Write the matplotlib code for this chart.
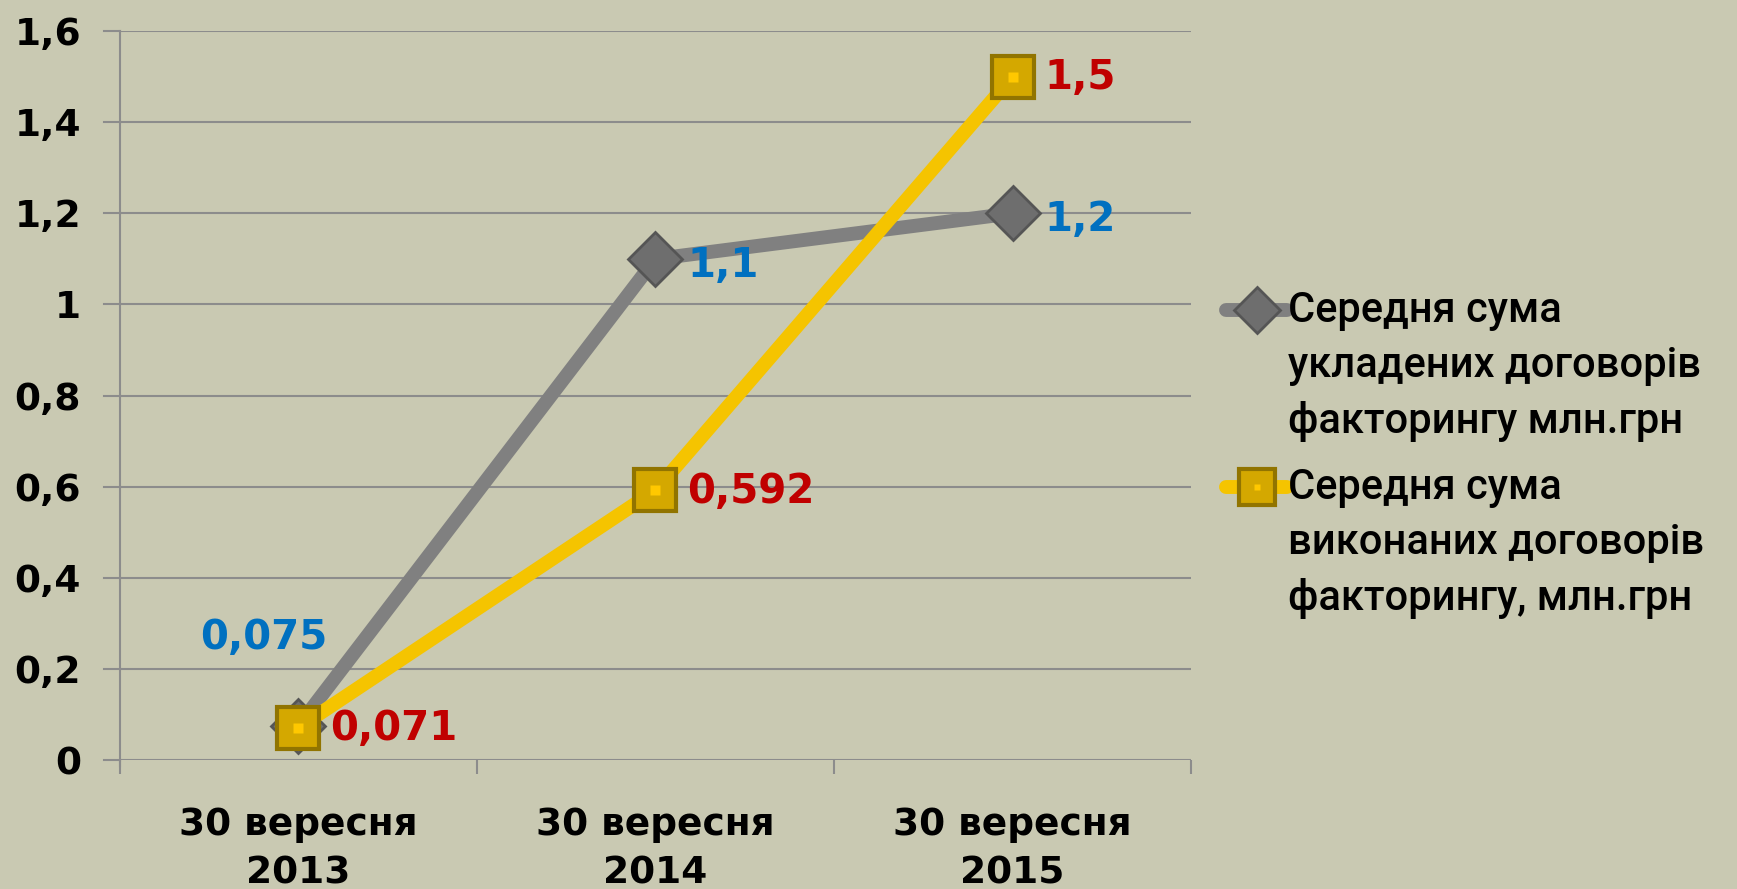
import matplotlib.pyplot as plt
from matplotlib.lines import Line2D
import numpy as np

# data
categories = ["30 вересня\n2013", "30 вересня\n2014", "30 вересня\n2015"]
concluded = [0.075, 1.1, 1.2]
executed = [0.071, 0.592, 1.5]
concluded_labels = ["0,075", "1,1", "1,2"]
executed_labels = ["0,071", "0,592", "1,5"]
y_ticks = [0, 0.2, 0.4, 0.6, 0.8, 1.0, 1.2, 1.4, 1.6]
y_tick_labels = ["0", "0,2", "0,4", "0,6", "0,8", "1", "1,2", "1,4", "1,6"]
series_names = ["Середня сума\nукладених договорів\nфакторингу млн.грн",
                "Середня сума\nвиконаних договорів\nфакторингу, млн.грн"]

bg = "#c9c9b2"
grey_line = "#808080"
yellow_line = "#f5c400"
grid_c = "#8c8c8c"

diamond_style = dict(marker="D", ms=27, mfc="#6e6e6e", mec="#555555", mew=2)
square_style = dict(marker="s", ms=30, mfc="#d4a800", mec="#917400", mew=3)

fig = plt.figure(figsize=(17.37, 8.89), dpi=100, facecolor=bg)
ax = fig.add_axes([0.069, 0.145, 0.6167, 0.82])
ax.set_facecolor(bg)

x = np.arange(len(categories))

ax.plot(x, concluded, color=grey_line, lw=10, solid_capstyle="round", zorder=3, **diamond_style)
ax.plot(x, executed, color=yellow_line, lw=10, solid_capstyle="round", zorder=4, **square_style)
# small inner dot of the square markers
ax.plot(x, executed, ls="none", marker="s", ms=7, mfc="#ffc800", mec="none", zorder=5)

# data labels
ax.annotate(concluded_labels[0], (x[0], concluded[0]), xytext=(-25, 63),
            textcoords="offset points", ha="center", va="center",
            color="#0070c0", fontsize=29, fontweight="bold")
for i in (1, 2):
    ax.annotate(concluded_labels[i], (x[i], concluded[i]), xytext=(23, -5),
                textcoords="offset points", ha="left", va="center",
                color="#0070c0", fontsize=29, fontweight="bold")
for i in range(3):
    ax.annotate(executed_labels[i], (x[i], executed[i]), xytext=(23, -1),
                textcoords="offset points", ha="left", va="center",
                color="#c00000", fontsize=29, fontweight="bold")

ax.set_xlim(-0.5, 2.5)
ax.set_ylim(0, 1.6)
ax.set_yticks(y_ticks)
ax.set_yticklabels(y_tick_labels, fontsize=27, fontweight="bold")
ax.set_xticks(x)
ax.set_xticklabels(categories, fontsize=27, fontweight="bold", linespacing=1.45)
ax.tick_params(axis="x", length=0, pad=34)
ax.tick_params(axis="y", length=0, pad=28)

# category boundary ticks
ax.set_xticks([-0.5, 0.5, 1.5, 2.5], minor=True)
ax.tick_params(axis="x", which="minor", length=10, width=1.5, color=grid_c, direction="out")

ax.grid(axis="y", color=grid_c, lw=1.5)
ax.set_axisbelow(True)
for s in ["top", "right", "bottom"]:
    ax.spines[s].set_visible(False)
ax.spines["left"].set_color(grid_c)
ax.spines["left"].set_linewidth(1.5)
ax.spines["left"].set_bounds(-0.012, 1.6)
# gridlines extend slightly left of the axis
for yv in y_ticks:
    ax.plot([-0.545, -0.5], [yv, yv], color=grid_c, lw=1.5, clip_on=False)

# legend, drawn by hand so the handle sits at the first text line
legend_rows = [(series_names[0], grey_line, diamond_style, 0.651),
               (series_names[1], yellow_line, square_style, 0.452)]
for name, lc, mstyle, yy in legend_rows:
    fig.add_artist(Line2D([0.706, 0.741], [yy, yy], transform=fig.transFigure,
                          color=lc, lw=10, solid_capstyle="round"))
    st = dict(mstyle)
    st["ms"] = st["ms"] * 0.85
    fig.add_artist(Line2D([0.7235], [yy], transform=fig.transFigure, ls="none", **st))
    if mstyle["marker"] == "s":
        fig.add_artist(Line2D([0.7235], [yy], transform=fig.transFigure, ls="none",
                              marker="s", ms=5, mfc="#ffc800", mec="none"))
    for k, line in enumerate(name.split("\n")):
        fig.text(0.7415, yy - k * 0.0625, line, fontsize=30, va="center", ha="left",
                 family="Roboto", fontweight="medium")

fig.savefig("out.png", dpi=100, facecolor=bg)
